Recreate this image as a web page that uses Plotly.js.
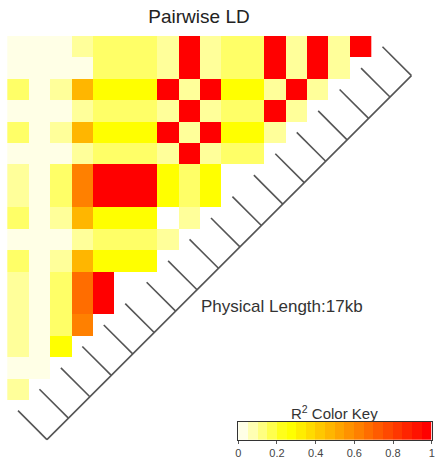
<!DOCTYPE html>
<html>
<head>
<meta charset="utf-8">
<script src="https://cdn.plot.ly/plotly-3.0.1.min.js"></script>
<style>html,body{margin:0;padding:0;background:#fff;}#chart{width:435px;height:462px;}</style>
</head>
<body>
<div id="chart"></div>
<script>
// Pairwise LD (R^2) values, one array per heatmap row (top to bottom), null = missing
const r00 = [0.025,0.025,0.025,0.10,0.15,0.15,0.15,0.10,0.975,0.10,0.15,0.15,0.975,0.10,0.975,0.10,0.975];
const r01 = [0.025,0.025,0.025,0.025,0.15,0.15,0.15,0.10,0.975,0.10,0.15,0.15,0.975,0.10,0.975,0.10];
const r02 = [0.15,0.025,0.10,0.475,0.275,0.275,0.275,0.975,0.10,0.975,0.275,0.275,0.10,0.975,0.10];
const r03 = [0.025,0.025,0.025,0.10,0.15,0.15,0.15,0.10,0.975,0.10,0.15,0.15,0.975,0.10];
const r04 = [0.15,0.025,0.10,0.475,0.275,0.275,0.275,0.975,0.10,0.975,0.275,0.275,0.10];
const r05 = [0.025,0.025,0.025,0.10,0.15,0.15,0.15,0.10,0.975,0.10,0.15,0.15];
const r06 = [0.10,0.025,0.15,0.625,0.975,0.975,0.975,0.275,0.15,0.275,null];
const r07 = [0.10,0.025,0.15,0.625,0.975,0.975,0.975,0.275,0.15,0.275];
const r08 = [0.15,0.025,0.10,0.475,0.275,0.275,0.275,null,0.10];
const r09 = [0.025,0.025,0.025,0.10,0.15,0.15,0.15,0.10];
const r10 = [0.15,0.025,0.10,0.475,0.275,0.275,0.275];
const r11 = [0.10,0.025,0.15,0.675,0.975,null];
const r12 = [0.10,0.025,0.15,0.675,0.975];
const r13 = [0.10,0.025,0.15,0.625];
const r14 = [0.10,0.025,0.275];
const r15 = [0.025,0.025];
const r16 = [0.10];
const ldRows = [r00,r01,r02,r03,r04,r05,r06,r07,r08,r09,r10,r11,r12,r13,r14,r15,r16];

// SNP physical positions (kb), evenly spaced along the map line
const snpPosKb = [0,1,2,3,4,5,6,7,8,9,10,11,12,13,14,15,16,17];

// colour key
const keyTicks = [0, 0.2, 0.4, 0.6, 0.8, 1];
const keyTickText = ['0', '0.2', '0.4', '0.6', '0.8', '1'];

// rev(heat.colors(20)), one colour per 0.05 bin
const palette = ['#FFFFE6','#FFFFB3','#FFFF80','#FFFF4D','#FFFF1A','#FFFF00','#FFED00','#FFDB00','#FFC800','#FFB600',
                 '#FFA400','#FF9200','#FF8000','#FF6D00','#FF5B00','#FF4900','#FF3700','#FF2400','#FF1200','#FF0000'];
const nb = palette.length;
const colorscale = [[0, palette[0]]];
palette.forEach((c, i) => { colorscale.push([(i + 0.5) / nb, c]); });
colorscale.push([1, palette[nb - 1]]);

const nSnp = snpPosKb.length;
const nCol = nSnp - 1;
const z = ldRows.map(r => { const a = r.slice(); while (a.length < nCol) a.push(null); return a; });

// genetic map line + segments from diagonal SNP cells to their physical position
const off = 1.35;
const p0 = snpPosKb[0], p1 = snpPosKb[nSnp - 1];
const lsx = nCol + off, lsy = 0 + off;      // line start (first SNP)
const lex = 0 + off, ley = nCol + off;      // line end (last SNP)
const segX = [lsx, lex, null], segY = [lsy, ley, null];
snpPosKb.forEach((p, k) => {
  const t = (p - p0) / (p1 - p0);
  segX.push(nCol - k, lsx + t * (lex - lsx), null);
  segY.push(k, lsy + t * (ley - lsy), null);
});

const keyZ = [palette.map((c, i) => (i + 0.5) / nb)];
const keyX = palette.map((c, i) => (i + 0.5) / nb);

const font = 'Liberation Sans, Arial, Helvetica, sans-serif';

const data = [
  { type: 'heatmap', z: z, colorscale: colorscale, zmin: 0, zmax: 1, showscale: false,
    xaxis: 'x', yaxis: 'y', hoverinfo: 'skip' },
  { type: 'scatter', mode: 'lines', x: segX, y: segY, xaxis: 'x', yaxis: 'y',
    line: { color: '#555555', width: 1.6 }, hoverinfo: 'skip', showlegend: false },
  { type: 'heatmap', z: keyZ, x: keyX, y: [0], colorscale: colorscale, zmin: 0, zmax: 1,
    showscale: false, xaxis: 'x2', yaxis: 'y2', hoverinfo: 'skip' }
];

const layout = {
  width: 435, height: 462,
  margin: { l: 0, r: 0, t: 0, b: 0, pad: 0 },
  paper_bgcolor: '#ffffff', plot_bgcolor: 'rgba(0,0,0,0)',
  showlegend: false,
  title: { text: 'Pairwise LD', x: 0.4575, xref: 'paper', xanchor: 'center',
           y: 0.9639, yref: 'paper', yanchor: 'middle',
           font: { family: font, size: 19, color: '#222222' } },
  xaxis: { domain: [0, 1], range: [-0.8405, 19.449], visible: false, fixedrange: true },
  yaxis: { domain: [0, 1], range: [19.397, -2.1815], visible: false, fixedrange: true },
  xaxis2: { domain: [0.5478, 0.9924], anchor: 'y2', range: [0, 1], showgrid: false, zeroline: false,
            showline: true, mirror: true, linecolor: '#333333', linewidth: 1,
            ticks: 'outside', ticklen: 3, tickcolor: '#555555', tickvals: keyTicks, ticktext: keyTickText,
            tickfont: { family: font, size: 11, color: '#444444' }, fixedrange: true },
  yaxis2: { domain: [0.0476, 0.0872], anchor: 'x2', range: [-0.5, 0.5], showgrid: false, zeroline: false,
            showline: true, mirror: true, linecolor: '#333333', linewidth: 1, showticklabels: false,
            ticks: '', fixedrange: true },
  annotations: [
    { text: 'Physical Length:' + (p1 - p0) + 'kb', xref: 'paper', yref: 'paper', x: 0.6494, y: 0.3361,
      xanchor: 'center', yanchor: 'middle', showarrow: false,
      font: { family: font, size: 17, color: '#333333' } },
    { text: 'R<sup>2</sup> Color Key', xref: 'paper', yref: 'paper', x: 0.7701, y: 0.1061,
      xanchor: 'center', yanchor: 'middle', showarrow: false,
      font: { family: font, size: 15, color: '#333333' } }
  ]
};

Plotly.newPlot('chart', data, layout, { staticPlot: true, displayModeBar: false });
</script>
</body>
</html>
